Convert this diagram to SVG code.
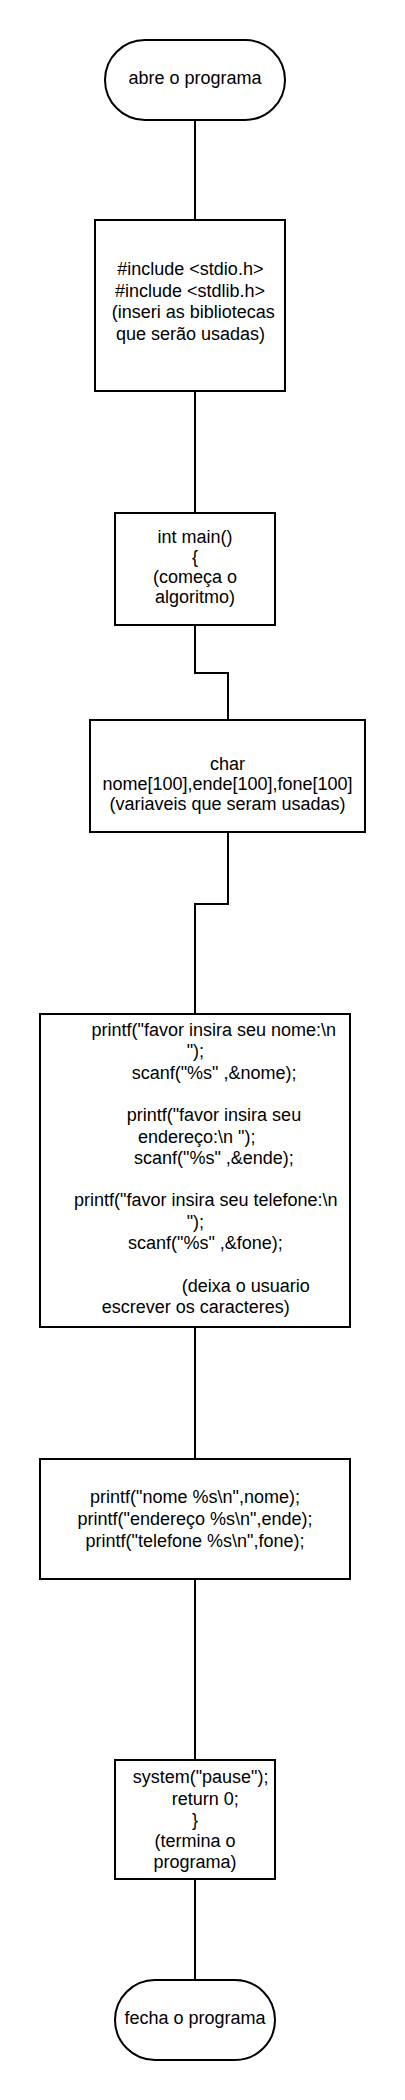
<svg xmlns="http://www.w3.org/2000/svg" width="405" height="2100" viewBox="0 0 405 2100">
<style>
.shape{fill:#ffffff;stroke:#000000;stroke-width:2}
.conn{fill:none;stroke:#000000;stroke-width:2}
text{font-family:"Liberation Sans",Arial,sans-serif;font-size:18px;fill:#000000}
.c{text-anchor:middle}
</style>
<rect x="0" y="0" width="405" height="2100" fill="#ffffff"/>
<g id="connectors">
<path class="conn" d="M195,120 V220"/>
<path class="conn" d="M195,391 V513"/>
<path class="conn" d="M195,625 V673 H228 V720"/>
<path class="conn" d="M228,832 V904 H195 V1014"/>
<path class="conn" d="M195,1327 V1459"/>
<path class="conn" d="M195,1579 V1760"/>
<path class="conn" d="M195,1879 V1980"/>
</g>
<g id="start">
<rect class="shape" x="105" y="40" width="180" height="80" rx="40" ry="40"/>
<text class="c" x="195" y="84">abre o programa</text>
</g>
<g id="includes">
<rect class="shape" x="95" y="220" width="190" height="171"/>
<text x="117.3" y="275">#include &lt;stdio.h&gt;</text>
<text x="115" y="296.7">#include &lt;stdlib.h&gt;</text>
<text x="111.7" y="318.3">(inseri as bibliotecas</text>
<text x="116" y="340">que serão usadas)</text>
</g>
<g id="main">
<rect class="shape" x="115" y="513" width="160" height="112"/>
<text class="c" x="195" y="542.5">int main()</text>
<text class="c" x="195" y="562.5">{</text>
<text class="c" x="195" y="582.5">(começa o</text>
<text class="c" x="195" y="602.5">algoritmo)</text>
</g>
<g id="vars">
<rect class="shape" x="90" y="720" width="275" height="112"/>
<text class="c" x="227.5" y="770">char</text>
<text class="c" x="227.5" y="790">nome[100],ende[100],fone[100]</text>
<text class="c" x="227.5" y="810">(variaveis que seram usadas)</text>
</g>
<g id="input">
<rect class="shape" x="40" y="1014" width="310" height="313"/>
<text x="91.5" y="1036">printf("favor insira seu nome:\n</text>
<text x="186.7" y="1057.3">");</text>
<text x="131.7" y="1078.6">scanf("%s" ,&amp;nome);</text>
<text x="126.7" y="1121.2">printf("favor insira seu</text>
<text x="138" y="1142.5">endereço:\n ");</text>
<text x="134" y="1163.8">scanf("%s" ,&amp;ende);</text>
<text x="74" y="1206.4">printf("favor insira seu telefone:\n</text>
<text x="186.7" y="1227.7">");</text>
<text x="128" y="1249">scanf("%s" ,&amp;fone);</text>
<text x="181.7" y="1291.6">(deixa o usuario</text>
<text x="101.7" y="1312.9">escrever os caracteres)</text>
</g>
<g id="output">
<rect class="shape" x="40" y="1459" width="310" height="120"/>
<text class="c" x="195" y="1503">printf("nome %s\n",nome);</text>
<text class="c" x="195" y="1525">printf("endereço %s\n",ende);</text>
<text class="c" x="195" y="1546.5">printf("telefone %s\n",fone);</text>
</g>
<g id="finish">
<rect class="shape" x="115" y="1760" width="160" height="119"/>
<text x="132.7" y="1783">system("pause");</text>
<text x="171.7" y="1805">return 0;</text>
<text class="c" x="195" y="1826">}</text>
<text class="c" x="195" y="1847">(termina o</text>
<text class="c" x="195" y="1868">programa)</text>
</g>
<g id="end">
<rect class="shape" x="115" y="1980" width="160" height="80" rx="40" ry="40"/>
<text class="c" x="195" y="2024">fecha o programa</text>
</g>
</svg>
